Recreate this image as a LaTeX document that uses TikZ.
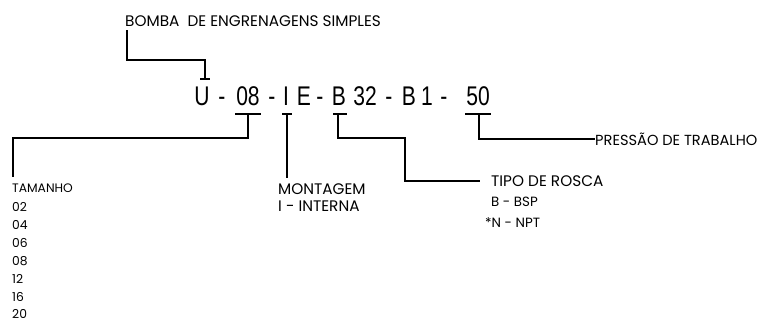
\documentclass[tikz,border=0pt]{standalone}
\usepackage{fontspec}
\setmainfont{Poppins}
\newfontfamily\codefont[FakeStretch=0.78]{Liberation Sans}
\begin{document}
\begin{tikzpicture}[x=1pt,y=-1pt,
  ln/.style={line width=1.7pt},
  lbl/.style={anchor=west,inner sep=0pt,font=\fontsize{15.3}{15.3}\selectfont},
  mid/.style={anchor=west,inner sep=0pt,font=\fontsize{13.4}{13.4}\selectfont},
  sml/.style={anchor=west,inner sep=0pt,font=\fontsize{12.3}{12.3}\selectfont},
  cd/.style={anchor=base,inner sep=0pt,font=\codefont\fontsize{27}{27}\selectfont}]
\useasboundingbox (0,0) rectangle (763,322);
% code
\node[cd] (u) at (202,105) {U};
\node[cd] (d1) at (222,105) {-};
\node[cd] (n08) at (248,105) {08};
\node[cd] (d2) at (272,105) {-};
\node[cd] (ii) at (286,105) {I};
\node[cd] (ee) at (304,105) {E};
\node[cd] (d3) at (320,105) {-};
\node[cd] (bb) at (339,105) {B};
\node[cd] (n32) at (365,105) {32};
\node[cd] (d4) at (389,105) {-};
\node[cd] (b2) at (409,105) {B};
\node[cd] (one) at (427,105) {1};
\node[cd] (d5) at (444,105) {-};
\node[cd] (n50) at (478,105) {50};
% labels
\node[lbl] (bomba) at (125,21) {BOMBA\ \ DE ENGRENAGENS SIMPLES};
\node[sml] (tam) at (12,188) {TAMANHO};
\node[sml] (t02) at (12,207) {02};
\node[sml] (t04) at (12,225) {04};
\node[sml] (t06) at (12,243) {06};
\node[sml] (t08) at (12,261) {08};
\node[sml] (t12) at (12,279) {12};
\node[sml] (t16) at (12,297) {16};
\node[sml] (t20) at (12,314) {20};
\node[lbl] (mont) at (278,189) {MONTAGEM};
\node[lbl] (intr) at (278,206) {I - INTERNA};
\node[lbl] (tipo) at (491,181) {TIPO DE ROSCA};
\node[mid] (bsp) at (491,202) {B - BSP};
\node[mid] (npt) at (485,223) {*N - NPT};
\node[lbl,font=\fontsize{14.6}{14.6}\selectfont] (press) at (595,139) {PRESSÃO DE TRABALHO};
% coordinates
\coordinate (bt) at (127,30);
\coordinate (ut) at (205,79);
\coordinate (t08) at (248,114);
\coordinate (ti) at (287,114);
\coordinate (tb) at (338,114);
\coordinate (t50) at (479,114);
% connectors
\draw[ln] (bt) |- (205,60) -- (ut);
\draw[ln] (200,79) -- (210,79);
\draw[ln] (235,114) -- (261,114);
\draw[ln] (t08) -- (248,138) -| (13,177);
\draw[ln] (282,114) -- (292,114);
\draw[ln] (ti) -- (287,178);
\draw[ln] (333,114) -- (347,114);
\draw[ln] (tb) |- (405,138) |- ([xshift=-11pt]tipo.west);
\draw[ln] (465,114) -- (491,114);
\draw[ln] (t50) |- (press.west);
\end{tikzpicture}
\end{document}
